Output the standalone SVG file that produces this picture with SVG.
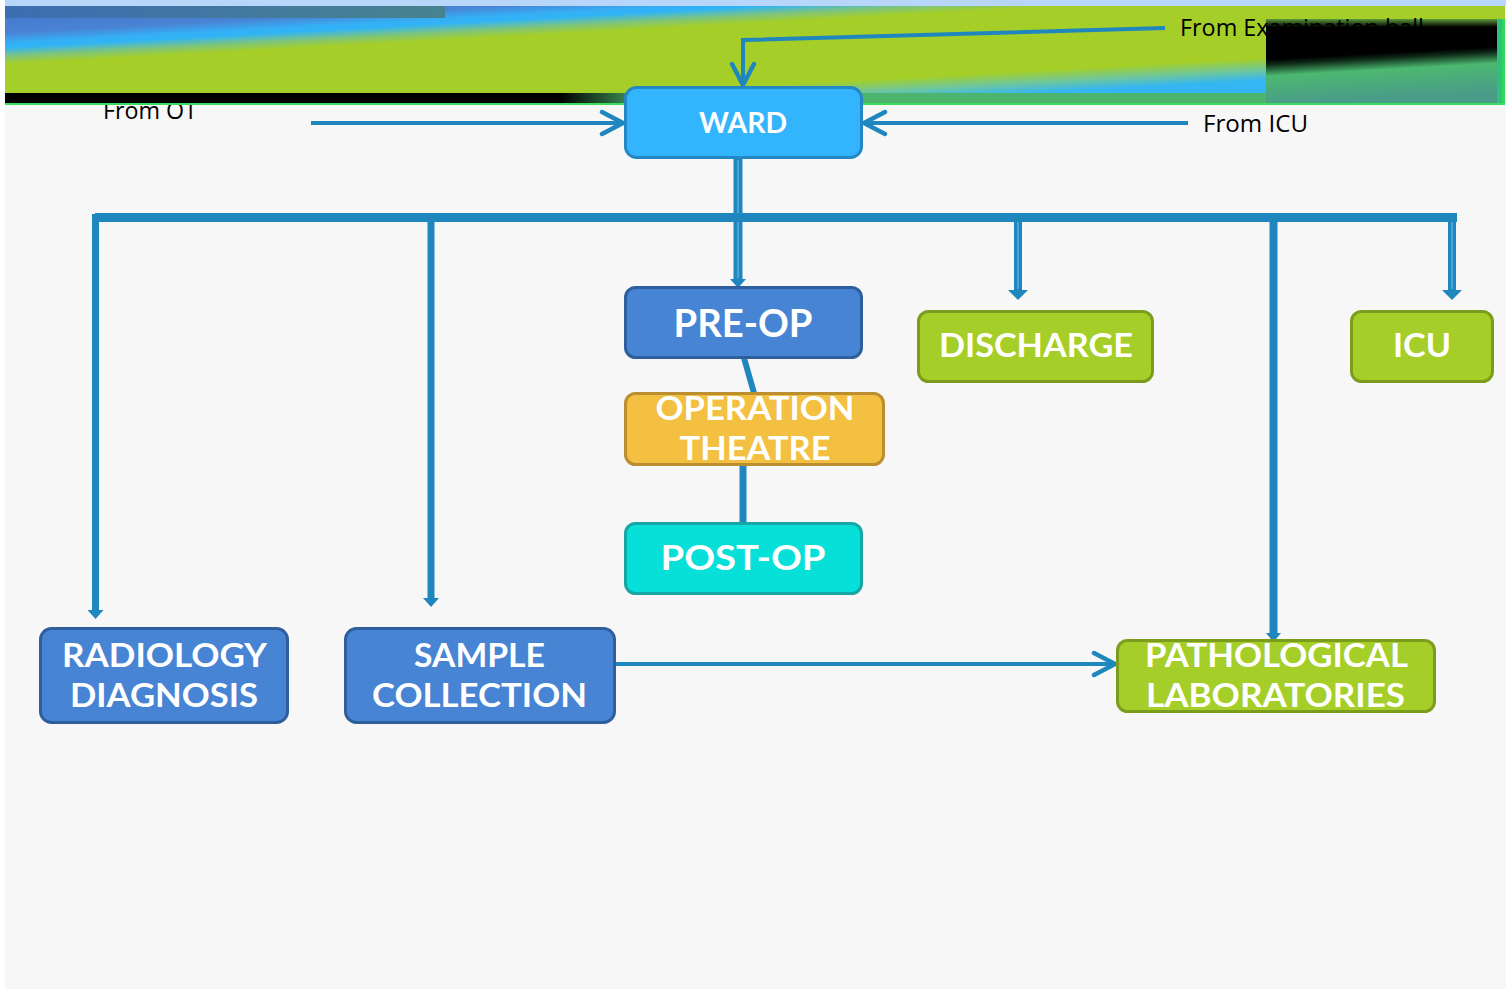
<svg xmlns="http://www.w3.org/2000/svg" width="1506" height="989" viewBox="0 0 1506 989">
<style>
.node rect{stroke-width:3}
.blue rect{fill:#4784d4;stroke:#2f5e9c}
.green rect{fill:#a5cf28;stroke:#7c9c1e}
.lbl{font-family:Lato,"Liberation Sans",sans-serif;font-weight:700;fill:#ffffff;text-anchor:middle}
.from{font-family:"Open Sans","Liberation Sans",Arial,sans-serif;font-size:24px;fill:#000000}
.conn{stroke:#1f87be;fill:none}
.core{stroke:#4aa4da;stroke-width:2;fill:none}
.head{fill:#1f87be}
</style>
<defs>
<linearGradient id="bannerG" gradientUnits="userSpaceOnUse" x1="0" y1="0" x2="9.075" y2="165">
<stop offset="0" stop-color="#3f74c8"/>
<stop offset="0.2" stop-color="#4a82d4"/>
<stop offset="0.26" stop-color="#36aef4"/>
<stop offset="0.29" stop-color="#30b4f8"/>
<stop offset="0.34" stop-color="#7cc480"/>
<stop offset="0.39" stop-color="#a5cf28"/>
<stop offset="0.77" stop-color="#a5cf28"/>
<stop offset="0.845" stop-color="#6cc6a0"/>
<stop offset="0.905" stop-color="#34b6f2"/>
</linearGradient>
<linearGradient id="topStripe" x1="0" y1="0" x2="1" y2="0">
<stop offset="0" stop-color="#3c6db2"/>
<stop offset="1" stop-color="#47838f"/>
</linearGradient>
<linearGradient id="bottomStrip" gradientUnits="userSpaceOnUse" x1="560" y1="0" x2="650" y2="0">
<stop offset="0" stop-color="#000000"/>
<stop offset="1" stop-color="#4cb46c"/>
</linearGradient>
<linearGradient id="blockG" gradientUnits="userSpaceOnUse" x1="1266" y1="0" x2="1271.8" y2="104">
<stop offset="0.57" stop-color="#000000"/>
<stop offset="0.62" stop-color="#0e2a18"/>
<stop offset="0.73" stop-color="#4cb870"/>
<stop offset="1" stop-color="#4a9c88"/>
</linearGradient>
<linearGradient id="fringe" x1="0" y1="0" x2="0" y2="1">
<stop offset="0" stop-color="#5e9c3c"/>
<stop offset="1" stop-color="#000000"/>
</linearGradient>
<marker id="chev" markerUnits="userSpaceOnUse" markerWidth="28" markerHeight="30" viewBox="0 0 28 30" refX="24" refY="15" orient="auto">
<path d="M3,4 L24,15 L3,26" fill="none" stroke="#1f87be" stroke-width="4.5" stroke-linecap="round" stroke-linejoin="round"/>
</marker>
</defs>

<!-- background -->
<rect x="0" y="0" width="1506" height="989" fill="#ffffff"/>
<rect x="5" y="0" width="1501" height="989" fill="#f7f7f7"/>

<text class="from" x="103" y="119" textLength="94" lengthAdjust="spacingAndGlyphs">From OT</text>

<!-- banner -->
<g id="banner">
<rect x="5" y="0" width="1501" height="6" fill="#b8d6fa"/>
<rect x="5" y="6" width="1500" height="87" fill="url(#bannerG)"/>
<rect x="5" y="6" width="440" height="12" fill="url(#topStripe)"/>
<rect x="5" y="93" width="1500" height="11" fill="url(#bottomStrip)"/>
<rect x="1266" y="6" width="239" height="13" fill="#a5cf28"/>
<path d="M1266,19 L1497,19 L1497,104 L1266,104 Z" fill="url(#blockG)"/>
<rect x="1266" y="19" width="231" height="8" fill="url(#fringe)"/>
<rect x="1497" y="19" width="8" height="85" fill="#2ec07c"/>
<rect x="1502" y="19" width="3" height="85" fill="#30d858"/>
<rect x="5" y="103" width="1500" height="2" fill="#3cdc5c"/>
</g>

<text class="from" x="1180" y="36" textLength="244" lengthAdjust="spacingAndGlyphs">From Examination hall</text>
<text class="from" x="1203" y="132" textLength="105" lengthAdjust="spacingAndGlyphs">From ICU</text>

<!-- connectors -->
<g id="connectors">
<polyline class="conn" stroke-width="4" points="1165,28 743,40 743,85" marker-end="url(#chev)"/>
<line class="conn" stroke-width="4" x1="311" y1="123" x2="623" y2="123" marker-end="url(#chev)"/>
<line class="conn" stroke-width="4" x1="1188" y1="123" x2="864" y2="123" marker-end="url(#chev)"/>
<line class="conn" stroke-width="9" x1="738" y1="158" x2="738" y2="280"/>
<line class="core" x1="738" y1="160" x2="738" y2="278"/>
<path class="head" d="M730,279 L746,279 L738,288 Z"/>
<line class="conn" stroke-width="9" x1="95" y1="217.5" x2="1457" y2="217.5"/>
<line class="conn" stroke-width="7" x1="95.5" y1="214" x2="95.5" y2="611"/>
<path class="head" d="M87.5,610 L103.5,610 L95.5,619 Z"/>
<line class="conn" stroke-width="7" x1="431" y1="222" x2="431" y2="599"/>
<path class="head" d="M423,598 L439,598 L431,607 Z"/>
<line class="conn" stroke-width="8" x1="1018" y1="222" x2="1018" y2="291"/>
<line class="core" x1="1018" y1="222" x2="1018" y2="289"/>
<path class="head" d="M1008,290 L1028,290 L1018,300 Z"/>
<line class="conn" stroke-width="8" x1="1452" y1="214" x2="1452" y2="291"/>
<line class="core" x1="1452" y1="222" x2="1452" y2="289"/>
<path class="head" d="M1442,290 L1462,290 L1452,300 Z"/>
<line class="conn" stroke-width="8" x1="1273.5" y1="222" x2="1273.5" y2="634"/>
<path class="head" d="M1266,633 L1281,633 L1273.5,642 Z"/>
<line class="conn" stroke-width="6" x1="744" y1="358" x2="754" y2="393"/>
<line class="conn" stroke-width="7" x1="743" y1="464" x2="743" y2="523"/>
<line class="conn" stroke-width="4" x1="615" y1="664" x2="1115" y2="664" marker-end="url(#chev)"/>
</g>

<!-- nodes -->
<g id="ward" class="node">
<rect x="625.5" y="87.5" width="236" height="70" rx="11" fill="#33b5fd" stroke="#2488c4"/>
<text class="lbl" x="743" y="133" font-size="28" textLength="88" lengthAdjust="spacingAndGlyphs">WARD</text>
</g>
<g id="preop" class="node blue">
<rect x="625.5" y="287.5" width="236" height="70" rx="10"/>
<text class="lbl" x="743" y="337" font-size="39" textLength="139" lengthAdjust="spacingAndGlyphs">PRE-OP</text>
</g>
<g id="ot" class="node">
<rect x="625.5" y="393.5" width="258" height="71" rx="10" fill="#f3c042" stroke="#bb8f30"/>
<text class="lbl" x="755" y="420" font-size="32" textLength="199" lengthAdjust="spacingAndGlyphs">OPERATION</text>
<text class="lbl" x="755" y="460" font-size="32" textLength="151" lengthAdjust="spacingAndGlyphs">THEATRE</text>
</g>
<g id="postop" class="node">
<rect x="625.5" y="523.5" width="236" height="70" rx="10" fill="#06e0d8" stroke="#17a5a5"/>
<text class="lbl" x="743" y="570" font-size="35" textLength="165" lengthAdjust="spacingAndGlyphs">POST-OP</text>
</g>
<g id="discharge" class="node green">
<rect x="918.5" y="311.5" width="234" height="70" rx="10"/>
<text class="lbl" x="1036" y="357" font-size="33" textLength="194" lengthAdjust="spacingAndGlyphs">DISCHARGE</text>
</g>
<g id="icu" class="node green">
<rect x="1351.5" y="311.5" width="141" height="70" rx="10"/>
<text class="lbl" x="1422" y="357" font-size="33" textLength="58" lengthAdjust="spacingAndGlyphs">ICU</text>
</g>
<g id="radiology" class="node blue">
<rect x="40.5" y="628.5" width="247" height="94" rx="11"/>
<text class="lbl" x="164.5" y="667" font-size="33" textLength="205" lengthAdjust="spacingAndGlyphs">RADIOLOGY</text>
<text class="lbl" x="164" y="707" font-size="33" textLength="188" lengthAdjust="spacingAndGlyphs">DIAGNOSIS</text>
</g>
<g id="sample" class="node blue">
<rect x="345.5" y="628.5" width="269" height="94" rx="11"/>
<text class="lbl" x="479.5" y="667" font-size="33" textLength="131" lengthAdjust="spacingAndGlyphs">SAMPLE</text>
<text class="lbl" x="479.5" y="707" font-size="33" textLength="215" lengthAdjust="spacingAndGlyphs">COLLECTION</text>
</g>
<g id="pathology" class="node green">
<rect x="1117.5" y="640.5" width="317" height="71" rx="10"/>
<text class="lbl" x="1276.5" y="667" font-size="33" textLength="263" lengthAdjust="spacingAndGlyphs">PATHOLOGICAL</text>
<text class="lbl" x="1275.5" y="707" font-size="33" textLength="259" lengthAdjust="spacingAndGlyphs">LABORATORIES</text>
</g>
</svg>
